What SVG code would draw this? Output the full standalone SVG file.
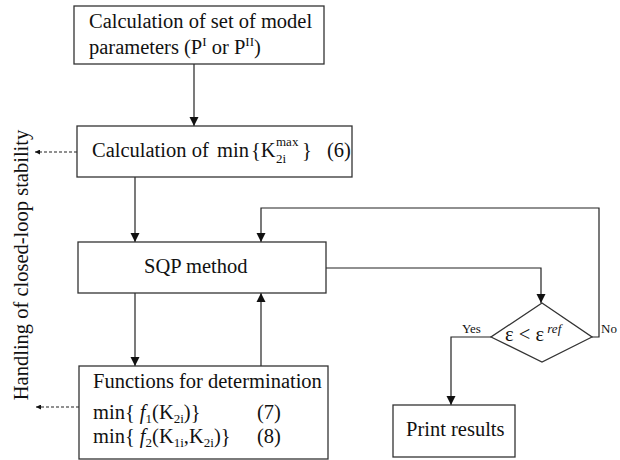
<svg xmlns="http://www.w3.org/2000/svg" width="620" height="460" viewBox="0 0 620 460">
<defs>
<marker id="ah" viewBox="0 0 10 10" refX="10" refY="5" markerWidth="9" markerHeight="10" markerUnits="userSpaceOnUse" orient="auto">
<path d="M0,0 L10,5 L0,10 z" fill="#111"/>
</marker>
<marker id="ahs" viewBox="0 0 10 10" refX="10" refY="5" markerWidth="5" markerHeight="5" markerUnits="userSpaceOnUse" orient="auto">
<path d="M0,0 L10,5 L0,10 z" fill="#111"/>
</marker>
</defs>
<style>
.box{fill:#fff;stroke:#333;stroke-width:1.3}
.ln{fill:none;stroke:#222;stroke-width:1.2}
.ar{marker-end:url(#ah)}
.ds{fill:none;stroke:#222;stroke-width:1.1;stroke-dasharray:3,2;marker-end:url(#ahs)}
text{font-family:"Liberation Serif","Times New Roman",serif;fill:#111;font-size:20.5px}
.sm{font-size:13px}
.lb{font-size:13px}
</style>
<rect width="620" height="460" fill="#fff"/>
<g id="connectors">
<path class="ln ar" d="M194,64 V126"/>
<path class="ln ar" d="M135,177 V242"/>
<path class="ln ar" d="M135,293 V366"/>
<path class="ln ar" d="M261,366 V293"/>
<path class="ln ar" d="M326,268 H541 V303"/>
<path class="ln ar" d="M592,337 H599 V208 H261 V242"/>
<path class="ln ar" d="M491,337 H451 V405"/>
<path class="ds" d="M77,152 H35"/>
<path class="ds" d="M79,407 H36"/>
</g>
<g id="params">
<rect class="box" x="74" y="6" width="250" height="58"/>
<text x="89" y="28">Calculation of set of model</text>
<text x="89" y="54">parameters (P<tspan class="sm" dy="-8">I</tspan><tspan dy="8"> or P</tspan><tspan class="sm" dy="-8">II</tspan><tspan dy="8">)</tspan></text>
</g>
<g id="kmax">
<rect class="box" x="77" y="126" width="275" height="51"/>
<text x="92" y="157">Calculation of</text>
<text x="217" y="157">min</text>
<text x="251" y="157">{K</text>
<text class="sm" x="276" y="146">max</text>
<text class="sm" x="276" y="163">2i</text>
<text x="302" y="157">}</text>
<text x="327" y="157">(6)</text>
</g>
<g id="sqp">
<rect class="box" x="78" y="242" width="248" height="51"/>
<text x="144" y="273">SQP method</text>
</g>
<g id="functions">
<rect class="box" x="79" y="366" width="249" height="93"/>
<text x="93" y="388">Functions for determination</text>
<text x="93" y="419">min{ <tspan font-style="italic">f</tspan><tspan class="sm" dy="4">1</tspan><tspan dy="-4">(K</tspan><tspan class="sm" dy="4">2i</tspan><tspan dy="-4">)}</tspan></text>
<text x="257" y="419">(7)</text>
<text x="93" y="443">min{ <tspan font-style="italic">f</tspan><tspan class="sm" dy="4">2</tspan><tspan dy="-4">(K</tspan><tspan class="sm" dy="4">1i</tspan><tspan dy="-4">,K</tspan><tspan class="sm" dy="4">2i</tspan><tspan dy="-4">)}</tspan></text>
<text x="257" y="443">(8)</text>
</g>
<g id="decision">
<path class="box" d="M542,303 L592,337 L542,362 L491,337 Z"/>
<text x="505" y="341">ε &lt; ε<tspan class="sm" font-style="italic" dy="-8"> ref</tspan></text>
<text class="lb" x="462" y="333">Yes</text>
<text class="lb" x="601" y="333">No</text>
</g>
<g id="print">
<rect class="box" x="393" y="405" width="122" height="52"/>
<text x="406" y="436">Print results</text>
</g>
<g id="stability">
<text transform="translate(28,265) rotate(-90)" text-anchor="middle" font-size="18.5">Handling of closed-loop stability</text>
</g>
</svg>
